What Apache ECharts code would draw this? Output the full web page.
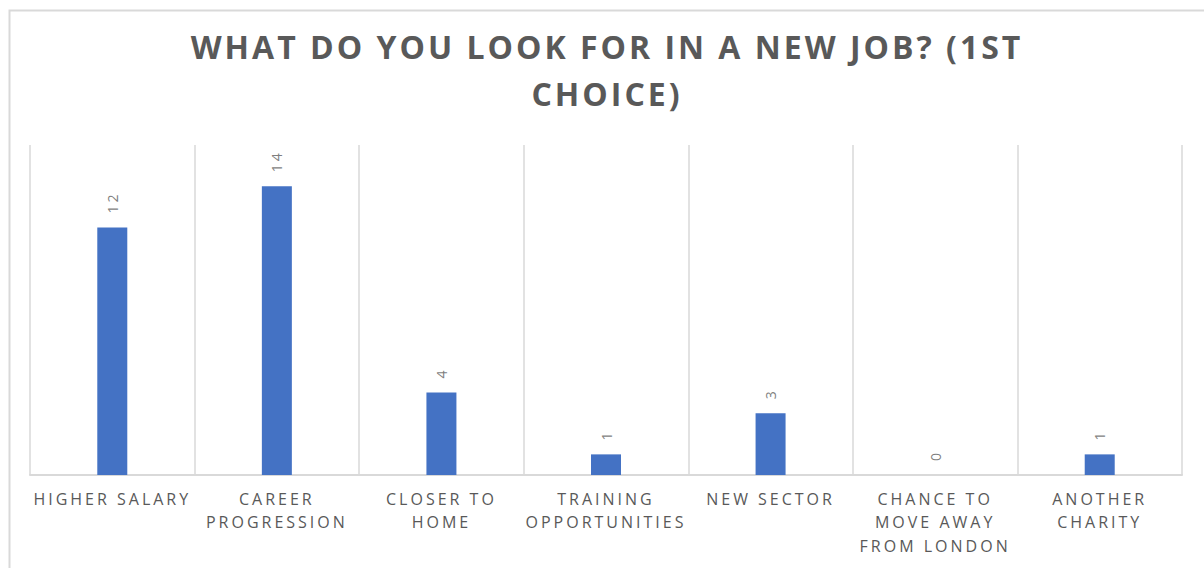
<!DOCTYPE html>
<html>
<head>
<meta charset="utf-8">
<script src="https://cdn.jsdelivr.net/npm/echarts@6/dist/echarts.min.js"></script>
<style>
  html, body { margin: 0; padding: 0; background: #ffffff; }
  #chart { width: 1204px; height: 568px; }
  /* tracked capitals, as in the office-style chart template */
  #chart svg text { letter-spacing: 3px; }
</style>
</head>
<body>
<div id="chart"></div>
<script>
// Survey answers: first choice when looking for a new job
const categories = [
  'HIGHER SALARY',
  'CAREER\nPROGRESSION',
  'CLOSER TO\nHOME',
  'TRAINING\nOPPORTUNITIES',
  'NEW SECTOR',
  'CHANCE TO\nMOVE AWAY\nFROM LONDON',
  'ANOTHER\nCHARITY'
];
const responses = [12, 14, 4, 1, 3, 0, 1];
const titleText = 'WHAT DO YOU LOOK FOR IN A NEW JOB? (1ST\nCHOICE)';

const chart = echarts.init(document.getElementById('chart'), null, { renderer: 'svg' });

chart.setOption({
  backgroundColor: '#ffffff',
  animation: false,
  title: {
    text: titleText,
    left: 602,
    top: 18,
    textAlign: 'center',
    textStyle: {
      fontFamily: 'Open Sans',
      fontWeight: 'bold',
      fontSize: 32,
      lineHeight: 47,
      color: '#595959',
      align: 'center'
    }
  },
  graphic: [{
    type: 'rect',
    left: 7,
    top: 8,
    shape: { width: 1400, height: 800 },
    style: { fill: 'none', stroke: '#d9d9d9', lineWidth: 2 },
    silent: true,
    z: -1
  }],
  grid: { left: 30, right: 22, top: 145, bottom: 93, containLabel: false },
  xAxis: {
    type: 'category',
    data: categories,
    boundaryGap: true,
    axisLine: { show: true, lineStyle: { color: '#d9d9d9', width: 2 } },
    axisTick: { show: false },
    splitLine: { show: true, lineStyle: { color: '#d9d9d9', width: 1.5 } },
    axisLabel: {
      interval: 0,
      margin: 12,
      fontFamily: 'Open Sans',
      fontSize: 16,
      lineHeight: 23.5,
      color: '#595959',
      align: 'center'
    }
  },
  yAxis: {
    type: 'value',
    min: 0,
    max: 16,
    show: false,
    splitLine: { show: false }
  },
  series: [{
    type: 'bar',
    data: responses,
    barWidth: 30,
    itemStyle: { color: '#4472c4' },
    label: {
      show: true,
      position: 'top',
      distance: 14,
      rotate: 90,
      align: 'left',
      verticalAlign: 'middle',
      fontFamily: 'Open Sans',
      fontSize: 14,
      color: '#7f7f7f'
    }
  }]
});
</script>
</body>
</html>
